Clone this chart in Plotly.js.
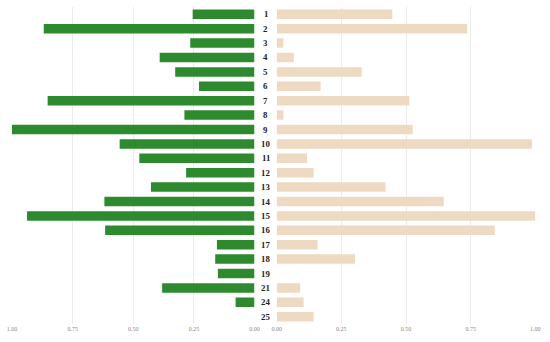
<!DOCTYPE html>
<html><head><meta charset="utf-8">
<script src="https://cdn.plot.ly/plotly-3.0.1.min.js"></script>
<style>html,body{margin:0;padding:0;background:#fff}#c{width:550px;height:342px}</style>
</head><body><div id="c"></div>
<script>
var categories = ['1','2','3','4','5','6','7','8','9','10','11','12','13','14','15','16','17','18','19','21','24','25'];
var leftValues = [0.255,0.869,0.265,0.391,0.327,0.229,0.853,0.289,1.0,0.556,0.475,0.282,0.427,0.619,0.938,0.616,0.155,0.162,0.151,0.381,0.078,0];
var rightValues = [0.447,0.737,0.026,0.066,0.329,0.170,0.513,0.026,0.526,0.987,0.117,0.143,0.421,0.646,1.0,0.843,0.158,0.303,0,0.091,0.104,0.143];
var tickVals = [0,0.25,0.5,0.75,1];
var tickText = ['0.00','0.25','0.50','0.75','1.00'];

var traces = [
  {type:'bar', orientation:'h', y:categories, x:leftValues, xaxis:'x', yaxis:'y',
   marker:{color:'#2e8a2e', line:{width:0}}, hoverinfo:'none'},
  {type:'bar', orientation:'h', y:categories, x:rightValues, xaxis:'x2', yaxis:'y2',
   marker:{color:'#eedac3', line:{width:0}}, hoverinfo:'none'}
];
var tickFont = {family:'Liberation Serif, DejaVu Serif, serif', size:6, color:'#888'};
var annotations = categories.map(function(c, i){
  return {xref:'paper', yref:'y', x:265.5/550, y:i, text:'<b>'+c+'</b>', showarrow:false,
          xanchor:'center', yanchor:'middle',
          font:{family:'Liberation Serif, DejaVu Serif, serif', size:8.8, color:'#222'}};
});
var yRange = [categories.length - 0.5, -0.5];
var layout = {
  width:550, height:342, margin:{l:0,r:0,t:0,b:0},
  paper_bgcolor:'#fff', plot_bgcolor:'#fff', showlegend:false, bargap:0.34,
  xaxis:{domain:[12/550,254.5/550], range:[1,0], tickvals:tickVals, ticktext:tickText,
         showgrid:true, gridcolor:'#ebebeb', gridwidth:1, zeroline:false, showline:false,
         tickfont:tickFont, ticks:'', anchor:'y'},
  xaxis2:{domain:[276.7/550,535.3/550], range:[0,1], tickvals:tickVals, ticktext:tickText,
         showgrid:true, gridcolor:'#ebebeb', gridwidth:1, zeroline:false, showline:false,
         tickfont:tickFont, ticks:'', anchor:'y2'},
  yaxis:{domain:[1-323.9/342, 1-7.1/342], type:'category', categoryorder:'array', categoryarray:categories,
         range:yRange, showticklabels:false, showgrid:false, zeroline:false, anchor:'x'},
  yaxis2:{domain:[1-323.9/342, 1-7.1/342], type:'category', categoryorder:'array', categoryarray:categories,
         range:yRange, showticklabels:false, showgrid:false, zeroline:false, anchor:'x2'},
  annotations:annotations
};
Plotly.newPlot('c', traces, layout, {staticPlot:true, displayModeBar:false});
</script></body></html>
